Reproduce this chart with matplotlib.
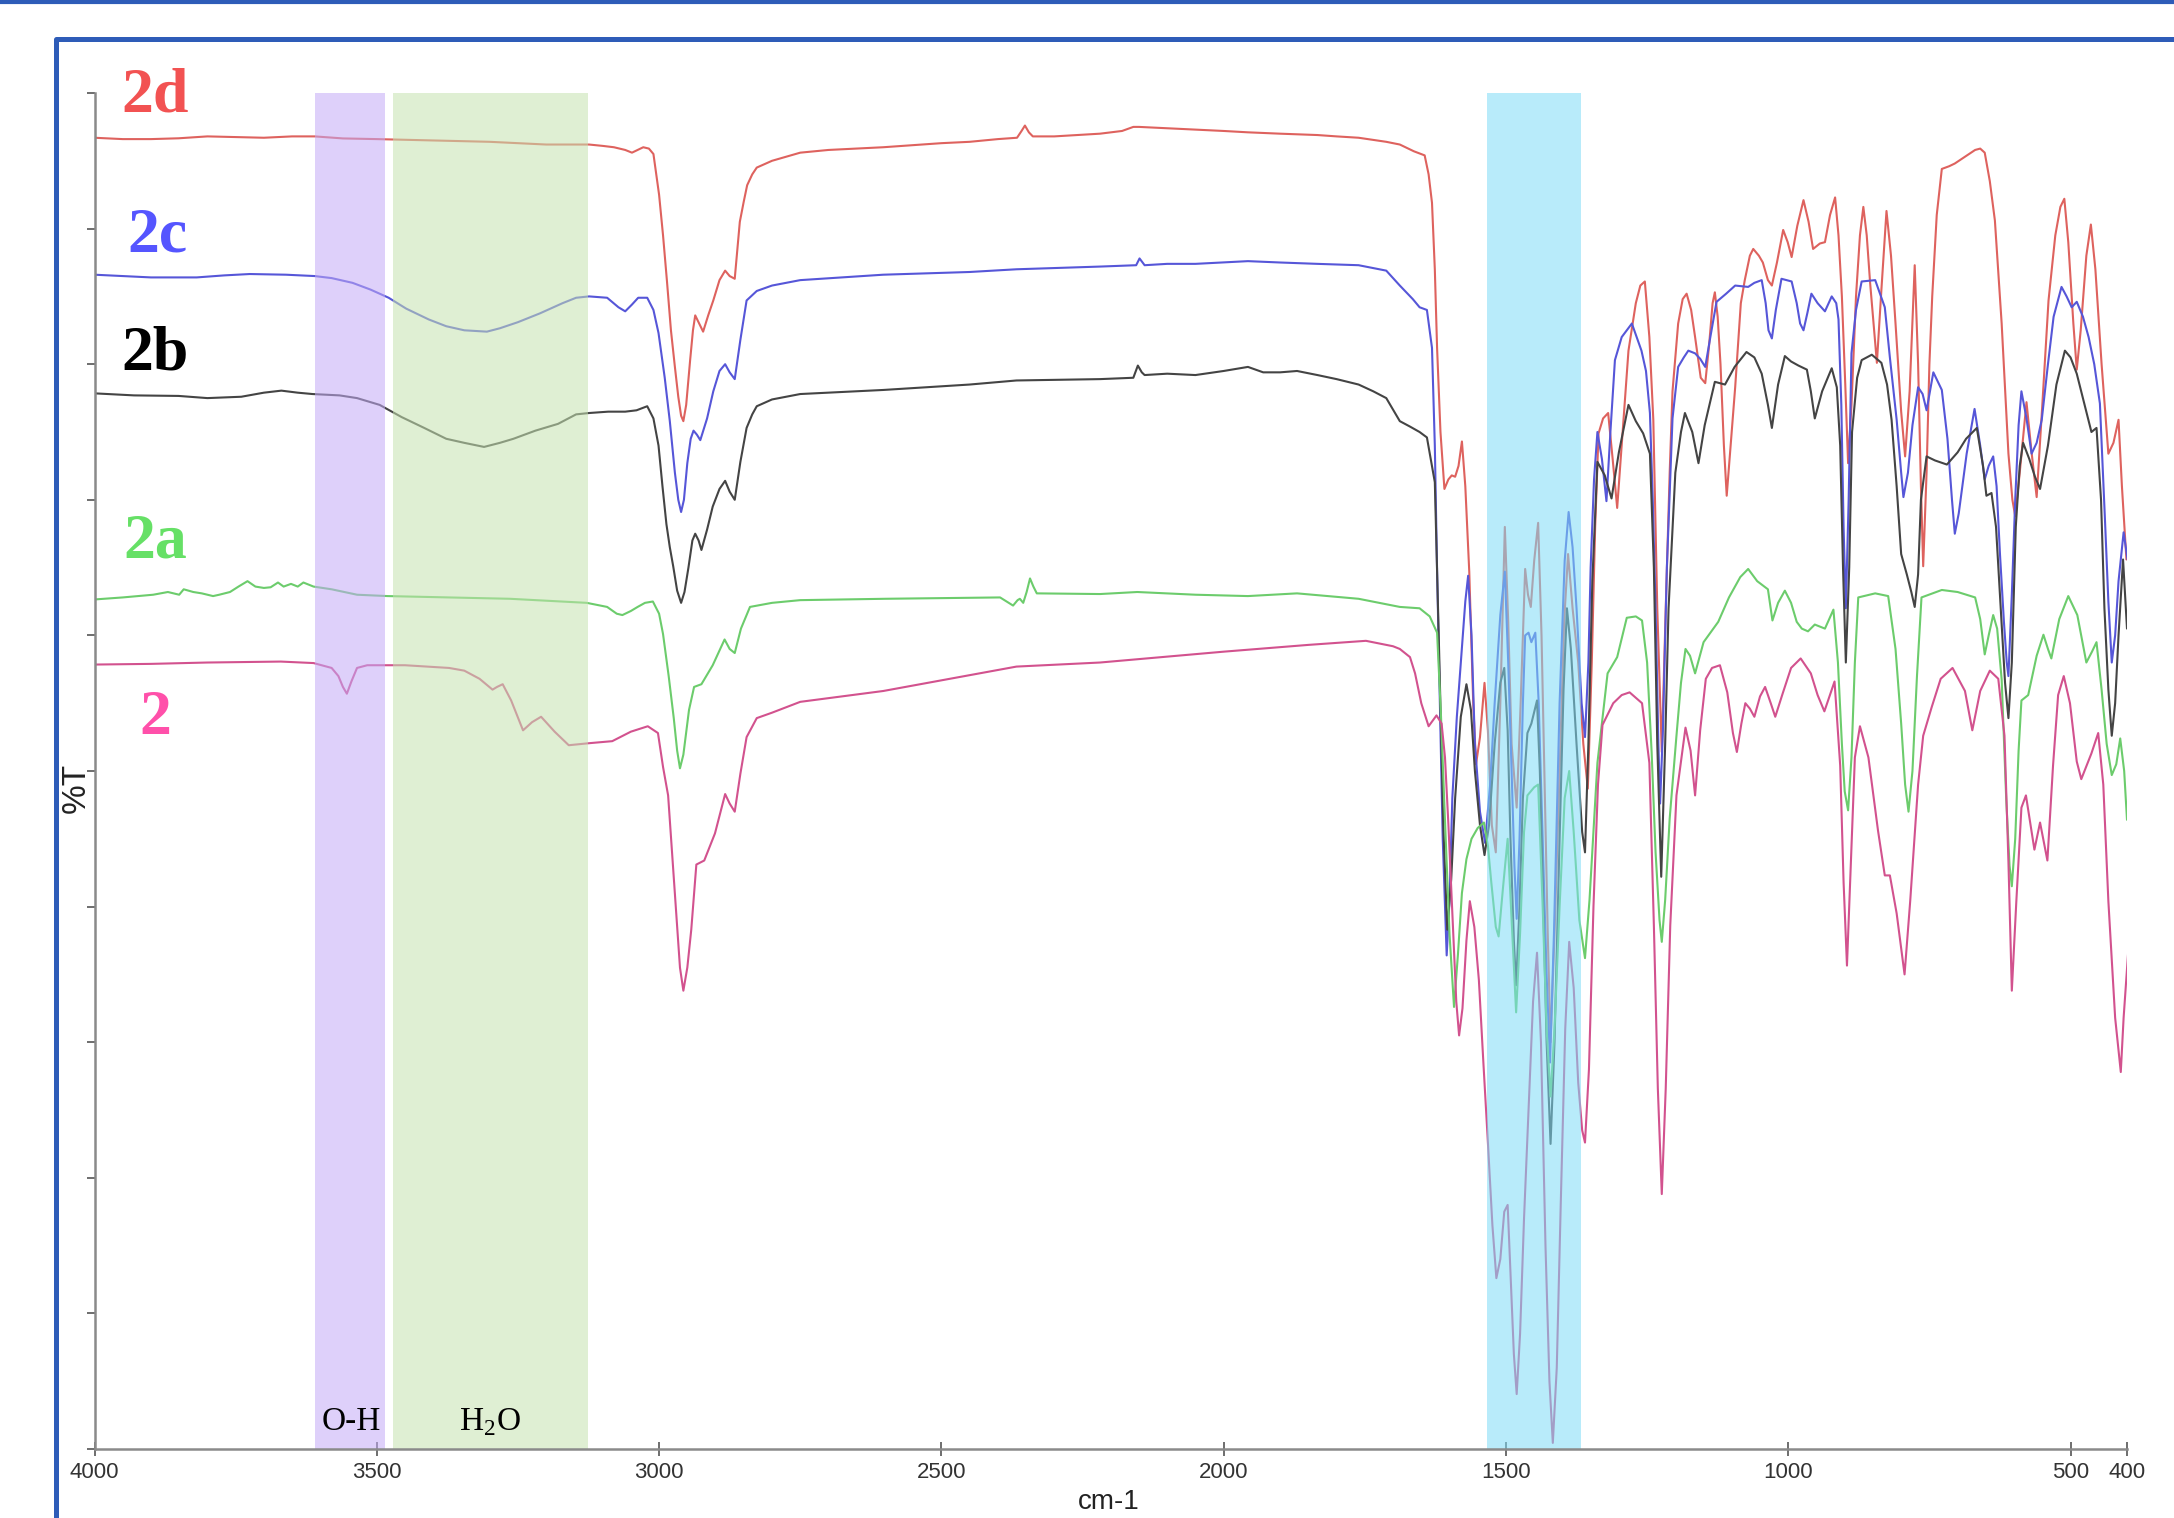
import matplotlib
matplotlib.use("Agg")
import matplotlib.pyplot as plt
from matplotlib.lines import Line2D

plt.rcParams['mathtext.fontset'] = 'custom'
plt.rcParams['mathtext.rm'] = 'Liberation Serif'

# ---------------- data (wavenumber cm-1, %T) ----------------
wn_2d = [4000, 3950, 3900, 3851, 3800, 3750, 3700, 3650, 3610, 3560, 3500, 3450, 3400, 3350,
         3300, 3250, 3200, 3150, 3124, 3100, 3080, 3060, 3048, 3038, 3028, 3018, 3010, 3000,
         2993, 2986, 2979, 2972, 2966, 2961, 2957, 2952, 2945, 2940, 2936, 2929, 2922, 2913,
         2904, 2893, 2883, 2875, 2866, 2857, 2850, 2844, 2835, 2827, 2800, 2750, 2700, 2603,
         2500, 2450, 2400, 2366, 2358, 2352, 2345, 2338, 2300, 2219, 2180, 2160, 2150, 2100,
         2050, 2000, 1957, 1900, 1834, 1800, 1761, 1712, 1688, 1663, 1650, 1644, 1637, 1631,
         1626, 1622, 1616, 1609, 1602, 1596, 1590, 1584, 1578, 1572, 1565, 1558, 1553, 1546,
         1538, 1532, 1525, 1518, 1510, 1502, 1496, 1490, 1481, 1474, 1466, 1461, 1456, 1450,
         1443, 1437, 1432, 1426, 1421, 1414, 1405, 1397, 1390, 1382, 1372, 1363, 1355, 1348,
         1342, 1336, 1328, 1319, 1311, 1303, 1295, 1283, 1270, 1262, 1254, 1246, 1239, 1232,
         1224, 1217, 1210, 1205, 1195, 1187, 1180, 1172, 1165, 1155, 1147, 1140, 1134, 1130,
         1125, 1120, 1114, 1109, 1102, 1094, 1084, 1077, 1068, 1062, 1052, 1045, 1036, 1029,
         1020, 1009, 1001, 994, 984, 973, 964, 956, 944, 935, 926, 917, 911, 905, 899, 894,
         888, 880, 873, 867, 861, 855, 843, 835, 826, 818, 810, 800, 793, 785, 776, 770, 765,
         761, 755, 750, 745, 737, 728, 715, 705, 687, 669, 660, 652, 643, 634, 622, 610, 603,
         598, 590, 578, 569, 560, 550, 539, 527, 518, 511, 504, 495, 489, 482, 472, 464, 456,
         445, 433, 424, 415, 409, 401]
T_2d = [96.7, 96.6, 96.6, 96.66, 96.8, 96.75, 96.7, 96.8, 96.8, 96.65, 96.6, 96.55, 96.5, 96.45,
        96.4, 96.3, 96.2, 96.2, 96.2, 96.1, 96.0, 95.8, 95.6, 95.8, 96.0, 95.9, 95.5, 92.5,
        89.5, 86.1, 82.5, 79.8, 77.6, 76.2, 75.8, 77.0, 80.3, 82.5, 83.6, 83.0, 82.4, 83.6,
        84.7, 86.2, 86.9, 86.5, 86.3, 90.5, 92.0, 93.2, 94.0, 94.5, 95.0, 95.6, 95.8, 96.0,
        96.3, 96.4, 96.6, 96.7, 97.2, 97.6, 97.1, 96.8, 96.8, 97.0, 97.2, 97.5, 97.5, 97.4,
        97.3, 97.2, 97.1, 97.0, 96.9, 96.8, 96.7, 96.4, 96.2, 95.7, 95.5, 95.4, 94.0, 91.9,
        87.0, 81.2, 75.0, 70.8, 71.5, 71.8, 71.7, 72.5, 74.3, 71.0, 64.7, 55.0, 50.5, 52.5,
        56.5, 53.0, 46.0, 44.0, 55.0, 68.0, 61.0, 52.0, 47.3, 55.0, 64.9, 63.0, 62.1, 65.5,
        68.3, 60.0, 50.0, 38.0, 30.0, 38.0, 50.0, 61.0, 66.0, 62.0, 58.0, 52.0, 48.7, 58.0,
        68.0, 74.9, 76.0, 76.4, 73.0, 69.4, 74.0, 81.0, 84.5, 85.8, 86.1, 82.0, 75.9, 62.0,
        51.4, 62.0, 72.0, 78.0, 83.0, 84.8, 85.2, 84.0, 82.0, 79.0, 78.6, 81.5, 84.5, 85.3,
        83.5, 80.0, 74.0, 70.3, 74.0, 78.3, 84.5, 86.2, 88.0, 88.5, 88.0, 87.5, 86.2, 85.8,
        87.5, 89.9, 89.0, 87.9, 90.2, 92.1, 90.5, 88.5, 88.9, 89.0, 91.0, 92.3, 89.5, 85.0,
        78.5, 72.7, 77.0, 85.0, 89.5, 91.6, 89.5, 86.0, 80.1, 85.5, 91.3, 88.0, 83.0, 76.5,
        73.2, 78.0, 87.3, 80.0, 71.0, 65.1, 72.0, 80.0, 85.0, 91.0, 94.4, 94.6, 94.8, 95.3,
        95.8, 95.9, 95.6, 93.5, 90.6, 83.0, 73.4, 70.0, 68.8, 72.0, 77.2, 73.5, 70.2, 77.0,
        84.7, 89.5, 91.6, 92.2, 89.0, 83.0, 79.6, 82.5, 88.0, 90.3, 87.0, 80.0, 73.4, 74.2,
        75.9, 71.0, 65.6]

wn_2c = [4000, 3900, 3819, 3770, 3725, 3661, 3610, 3580, 3543, 3511, 3479, 3448, 3408, 3377,
         3345, 3305, 3282, 3250, 3211, 3171, 3147, 3124, 3092, 3072, 3060, 3048, 3037, 3021,
         3010, 3001, 2990, 2981, 2972, 2966, 2961, 2956, 2950, 2944, 2939, 2933, 2927, 2915,
         2904, 2893, 2883, 2875, 2866, 2856, 2845, 2827, 2800, 2750, 2603, 2450, 2367, 2219,
         2155, 2149, 2140, 2100, 2050, 1957, 1900, 1834, 1761, 1712, 1688, 1665, 1653, 1640,
         1631, 1626, 1622, 1617, 1612, 1605, 1600, 1595, 1587, 1580, 1572, 1567, 1561, 1555,
         1546, 1537, 1528, 1520, 1510, 1502, 1496, 1490, 1485, 1481, 1476, 1470, 1466, 1460,
         1455, 1448, 1442, 1435, 1428, 1422, 1415, 1405, 1396, 1389, 1382, 1375, 1366, 1360,
         1354, 1350, 1344, 1338, 1330, 1322, 1315, 1307, 1295, 1277, 1260, 1252, 1245, 1240,
         1235, 1230, 1227, 1222, 1215, 1205, 1195, 1185, 1177, 1165, 1156, 1147, 1138, 1127,
         1110, 1094, 1071, 1060, 1047, 1040, 1035, 1029, 1022, 1012, 994, 985, 979, 973, 966,
         959, 948, 935, 923, 915, 911, 906, 902, 898, 893, 888, 880, 870, 846, 829, 820, 808,
         800, 796, 788, 780, 770, 762, 755, 743, 728, 718, 710, 705, 698, 690, 684, 670, 660,
         652, 645, 637, 631, 625, 618, 613, 610, 604, 598, 592, 587, 578, 569, 560, 551, 540,
         530, 516, 507, 498, 489, 478, 468, 458, 448, 439, 433, 427, 421, 415, 406, 399]
T_2c = [86.6, 86.4, 86.4, 86.55, 86.65, 86.6, 86.5, 86.35, 86.0, 85.5, 84.9, 84.1, 83.3, 82.8,
        82.5, 82.4, 82.65, 83.1, 83.75, 84.5, 84.9, 85.0, 84.9, 84.2, 83.9, 84.4, 84.9, 84.9,
        84.0, 82.3, 79.0, 75.8, 72.0, 70.0, 69.1, 70.0, 72.7, 74.5, 75.1, 74.8, 74.4, 76.0,
        78.0, 79.5, 80.0, 79.4, 78.9, 81.8, 84.7, 85.4, 85.8, 86.2, 86.6, 86.8, 87.0, 87.2,
        87.3, 87.8, 87.3, 87.4, 87.4, 87.6, 87.5, 87.4, 87.3, 86.9, 85.8, 84.8, 84.2, 84.0,
        81.2, 74.0, 64.8, 55.0, 45.0, 36.4, 40.5, 48.0, 54.0, 58.0, 62.5, 64.4, 60.0, 52.0,
        47.0, 44.7, 49.0, 55.0, 61.5, 64.7, 58.0, 50.0, 43.0, 39.1, 45.0, 55.0, 60.0, 60.2,
        59.5, 60.2, 55.0, 45.0, 35.0, 28.5, 38.0, 55.0, 65.5, 69.1, 66.5, 62.0, 55.0, 52.5,
        58.0, 65.0, 71.5, 75.0, 73.0, 69.9, 75.0, 80.3, 82.0, 83.0, 81.0, 79.5, 76.4, 70.0,
        62.0, 52.0, 47.6, 53.0, 65.0, 76.0, 79.8, 80.5, 81.0, 80.8, 80.4, 79.8, 82.0, 84.6,
        85.2, 85.8, 85.7, 86.0, 86.2, 84.5, 82.5, 81.9, 84.0, 86.3, 86.1, 84.5, 83.0, 82.5, 83.8,
        85.2, 84.5, 83.9, 85.0, 84.5, 83.3, 77.0, 68.0, 62.0, 70.0, 80.8, 84.0, 86.1, 86.2,
        84.2, 80.5, 75.9, 72.0, 70.2, 72.0, 75.5, 78.3, 77.8, 76.6, 79.4, 78.1, 74.5, 70.0,
        67.5, 69.0, 71.5, 73.4, 76.7, 74.0, 71.5, 72.5, 73.2, 71.0, 66.0, 61.0, 58.0, 57.0,
        63.0, 70.0, 75.5, 78.0, 76.0, 73.4, 74.2, 75.9, 80.0, 83.5, 85.7, 85.0, 84.2, 84.6,
        83.5, 82.0, 80.0, 77.1, 68.5, 62.5, 58.0, 60.0, 64.0, 67.6, 65.6]

wn_2b = [4000, 3930, 3851, 3800, 3740, 3700, 3669, 3640, 3614, 3566, 3535, 3495, 3456, 3416,
         3377, 3345, 3310, 3282, 3258, 3219, 3179, 3147, 3124, 3090, 3060, 3040, 3021, 3010,
         3001, 2994, 2987, 2981, 2975, 2968, 2961, 2955, 2948, 2941, 2936, 2930, 2925, 2915,
         2905, 2893, 2883, 2875, 2866, 2856, 2845, 2835, 2827, 2800, 2750, 2603, 2450, 2367,
         2219, 2160, 2152, 2145, 2140, 2100, 2050, 2000, 1957, 1930, 1900, 1870, 1834, 1800,
         1761, 1735, 1712, 1688, 1670, 1653, 1640, 1626, 1618, 1611, 1604, 1597, 1590, 1580,
         1570, 1562, 1555, 1546, 1538, 1530, 1520, 1510, 1503, 1497, 1492, 1486, 1482, 1476,
         1470, 1462, 1455, 1445, 1440, 1435, 1428, 1421, 1414, 1405, 1398, 1392, 1385, 1375,
         1365, 1360, 1354, 1347, 1338, 1325, 1313, 1300, 1283, 1270, 1257, 1245, 1238, 1232,
         1225, 1218, 1212, 1200, 1190, 1183, 1170, 1159, 1148, 1130, 1112, 1095, 1074, 1060,
         1047, 1036, 1029, 1018, 1006, 995, 982, 967, 960, 953, 940, 923, 914, 908, 903, 898,
         892, 887, 878, 870, 852, 835, 825, 817, 808, 800, 790, 782, 776, 770, 765, 755, 740,
         719, 700, 685, 666, 655, 649, 640, 632, 625, 616, 610, 604, 597, 590, 584, 573, 563,
         554, 540, 525, 510, 500, 489, 475, 463, 454, 446, 440, 433, 427, 421, 415, 407, 400]
T_2b = [77.85, 77.7, 77.66, 77.5, 77.6, 77.9, 78.05, 77.9, 77.8, 77.7, 77.5, 77.0, 76.1, 75.3,
        74.5, 74.2, 73.9, 74.2, 74.5, 75.1, 75.6, 76.3, 76.4, 76.5, 76.5, 76.6, 76.9, 76.0,
        74.0, 71.0, 68.2, 66.5, 65.1, 63.3, 62.4, 63.2, 65.0, 67.0, 67.5, 67.0, 66.3, 67.8,
        69.5, 70.8, 71.4, 70.6, 70.0, 72.8, 75.3, 76.3, 76.9, 77.4, 77.8, 78.1, 78.5, 78.8,
        78.9, 79.0, 79.9, 79.4, 79.2, 79.3, 79.2, 79.5, 79.8, 79.4, 79.4, 79.5, 79.2, 78.9,
        78.5, 78.0, 77.5, 75.8, 75.4, 75.0, 74.6, 71.3, 58.2, 46.0, 38.3, 42.0, 48.0, 54.0,
        56.4, 54.5, 50.0, 46.0, 43.8, 46.0, 52.0, 56.5, 57.6, 53.0, 45.0, 37.5, 34.2, 40.0,
        48.0, 52.8, 53.5, 55.2, 50.0, 42.0, 30.0, 22.5, 30.0, 45.0, 56.0, 62.0, 59.0, 52.0,
        45.5, 44.0, 52.0, 64.0, 72.8, 71.8, 70.1, 73.5, 77.0, 75.8, 74.9, 73.4, 65.0, 52.0,
        42.2, 52.0, 62.0, 72.0, 75.0, 76.4, 75.0, 72.7, 75.5, 78.7, 78.5, 79.8, 80.9, 80.5,
        79.3, 77.0, 75.3, 78.5, 80.6, 80.2, 79.9, 79.6, 78.0, 76.0, 78.0, 79.7, 78.3, 74.0,
        65.0, 58.0, 65.0, 75.0, 79.0, 80.3, 80.7, 80.1, 78.5, 75.9, 71.0, 66.0, 64.5, 63.2,
        62.1, 64.5, 70.0, 73.2, 72.9, 72.6, 73.5, 74.5, 75.3, 72.5, 70.3, 70.5, 68.0, 63.0,
        56.5, 53.9, 58.0, 68.0, 72.5, 74.2, 73.0, 71.7, 70.8, 74.0, 78.5, 81.0, 80.5, 79.3,
        77.0, 75.0, 75.3, 70.0, 62.0, 56.0, 52.6, 55.0, 60.0, 65.6, 60.5]

wn_2a = [4000, 3950, 3896, 3870, 3850, 3842, 3825, 3810, 3790, 3779, 3760, 3745, 3729, 3715,
         3700, 3688, 3675, 3665, 3652, 3640, 3630, 3612, 3580, 3535, 3481, 3264, 3128, 3092,
         3075, 3065, 3050, 3038, 3025, 3011, 3000, 2993, 2983, 2974, 2968, 2963, 2957, 2947,
         2938, 2925, 2905, 2884, 2875, 2866, 2855, 2839, 2800, 2750, 2600, 2396, 2373, 2365,
         2361, 2355, 2349, 2343, 2337, 2331, 2219, 2153, 2050, 1957, 1870, 1761, 1688, 1653,
         1635, 1622, 1615, 1609, 1600, 1592, 1585, 1578, 1570, 1561, 1550, 1539, 1532, 1526,
         1518, 1513, 1505, 1497, 1490, 1482, 1475, 1468, 1462, 1450, 1443, 1435, 1428, 1421,
         1414, 1405, 1396, 1388, 1380, 1370, 1360, 1352, 1338, 1320, 1303, 1286, 1270, 1259,
         1250, 1242, 1235, 1228, 1224, 1218, 1210, 1198, 1190, 1182, 1174, 1165, 1150, 1124,
         1105, 1085, 1071, 1055, 1036, 1028, 1018, 1006, 995, 985, 976, 965, 953, 935, 920,
         912, 905, 900, 894, 888, 882, 876, 846, 823, 810, 800, 793, 787, 780, 772, 764, 728,
         700, 669, 660, 652, 645, 637, 630, 622, 614, 608, 604, 598, 592, 587, 575, 560, 548,
         540, 534, 520, 504, 488, 472, 462, 454, 445, 436, 427, 419, 412, 405, 400]
T_2a = [62.65, 62.8, 63.0, 63.2, 63.0, 63.4, 63.2, 63.1, 62.9, 63.0, 63.2, 63.6, 64.0, 63.6,
        63.5, 63.55, 63.9, 63.6, 63.8, 63.6, 63.9, 63.6, 63.4, 63.0, 62.9, 62.7, 62.4, 62.1,
        61.6, 61.5, 61.8, 62.1, 62.4, 62.5, 61.6, 60.1, 57.0, 53.9, 51.5, 50.2, 51.2, 54.5,
        56.2, 56.4, 57.8, 59.7, 59.0, 58.7, 60.5, 62.1, 62.4, 62.6, 62.7, 62.8, 62.2, 62.6,
        62.7, 62.4, 63.2, 64.2, 63.6, 63.1, 63.05, 63.2, 63.0, 62.9, 63.1, 62.7, 62.1, 62.0,
        61.4, 60.2, 54.0, 47.4, 38.0, 32.6, 36.5, 41.0, 43.5, 45.0, 45.8, 46.2, 44.5, 41.8,
        38.5, 37.8, 41.5, 45.0, 39.0, 32.2, 38.0, 45.5, 48.2, 48.8, 49.0, 40.0, 31.0, 26.0,
        31.0, 40.0, 48.0, 50.0, 45.5, 39.0, 36.2, 40.5, 50.6, 57.2, 58.4, 61.3, 61.4, 61.1,
        58.0, 51.4, 44.0, 39.0, 37.4, 40.5, 46.5, 52.6, 56.5, 59.0, 58.5, 57.2, 59.5, 61.0,
        62.8, 64.3, 64.9, 64.0, 63.4, 61.1, 62.4, 63.3, 62.4, 61.0, 60.5, 60.3, 60.8, 60.5, 61.9,
        58.0, 52.0, 48.5, 47.1, 51.0, 58.0, 62.8, 63.1, 62.9, 59.0, 53.5, 49.0, 47.0, 50.0,
        57.0, 62.8, 63.35, 63.2, 62.8, 61.2, 58.6, 60.0, 61.5, 60.5, 56.75, 48.0, 43.0, 41.5,
        45.0, 51.5, 55.2, 55.6, 58.5, 60.05, 59.0, 58.3, 61.2, 62.9, 61.5, 58.0, 58.8, 59.5,
        56.0, 52.0, 49.7, 50.5, 52.4, 50.0, 46.4]

wn_2 = [4000, 3900, 3800, 3670, 3612, 3580, 3568, 3560, 3553, 3545, 3535, 3517, 3450, 3372,
        3345, 3318, 3295, 3287, 3277, 3262, 3241, 3225, 3209, 3185, 3160, 3124, 3083, 3050,
        3020, 3002, 2993, 2984, 2977, 2970, 2963, 2957, 2950, 2943, 2934, 2920, 2901, 2883,
        2875, 2866, 2856, 2845, 2827, 2800, 2750, 2603, 2367, 2219, 2000, 1850, 1748, 1700,
        1688, 1670, 1661, 1650, 1637, 1630, 1623, 1614, 1608, 1602, 1595, 1588, 1583, 1577,
        1570, 1564, 1556, 1548, 1540, 1532, 1524, 1517, 1510, 1503, 1497, 1492, 1486, 1481,
        1475, 1468, 1460, 1452, 1445, 1438, 1430, 1423, 1417, 1410, 1403, 1395, 1388, 1380,
        1372, 1365, 1360, 1353, 1345, 1337, 1329, 1310, 1295, 1281, 1270, 1259, 1246, 1238,
        1231, 1224, 1217, 1209, 1198, 1182, 1173, 1165, 1156, 1146, 1135, 1121, 1108, 1098,
        1091, 1083, 1076, 1068, 1060, 1050, 1041, 1031, 1023, 1010, 995, 978, 960, 948, 936,
        927, 918, 908, 902, 896, 889, 882, 873, 858, 841, 829, 820, 808, 794, 784, 770, 761,
        746, 730, 709, 687, 674, 660, 643, 628, 617, 610, 604, 596, 587, 579, 564, 554, 541,
        531, 522, 512, 501, 489, 481, 463, 451, 442, 433, 421, 411, 406, 398]
T_2 = [57.85, 57.9, 58.0, 58.07, 57.96, 57.6, 57.0, 56.2, 55.7, 56.6, 57.6, 57.8, 57.8, 57.6,
       57.4, 56.8, 56.0, 56.2, 56.4, 55.2, 53.0, 53.6, 54.0, 52.9, 51.9, 52.05, 52.2, 52.9,
       53.3, 52.8, 50.3, 48.2, 44.0, 39.8, 35.5, 33.8, 35.5, 38.3, 43.1, 43.4, 45.4, 48.3,
       47.6, 47.0, 49.8, 52.5, 53.9, 54.3, 55.1, 55.9, 57.7, 58.0, 58.8, 59.3, 59.6, 59.2,
       59.0, 58.4, 57.2, 55.0, 53.3, 53.7, 54.1, 53.5, 51.0, 46.1, 39.5, 33.0, 30.5, 32.5,
       37.5, 40.4, 38.5, 34.6, 28.5, 22.6, 16.5, 12.6, 14.0, 17.5, 18.0, 13.0, 7.0, 4.05,
       8.5, 17.0, 25.0, 33.0, 36.6, 30.0, 15.0, 5.0, 0.45, 6.0, 18.0, 31.0, 37.4, 34.0,
       27.0, 23.5, 22.6, 28.0, 40.0, 49.0, 53.4, 55.0, 55.6, 55.8, 55.4, 55.0, 50.6, 38.6,
       26.6, 18.8, 26.6, 38.6, 48.2, 53.2, 51.5, 48.2, 53.0, 56.8, 57.6, 57.8, 55.8, 52.8,
       51.4, 53.5, 55.0, 54.6, 54.0, 55.5, 56.2, 55.0, 54.0, 55.7, 57.6, 58.3, 57.2, 55.6, 54.4,
       55.5, 56.6, 50.4, 41.8, 35.65, 43.3, 51.0, 53.3, 51.0, 45.6, 42.3, 42.3, 39.5, 35.0,
       40.4, 49.0, 52.6, 54.7, 56.8, 57.6, 55.9, 53.0, 55.9, 57.4, 56.8, 52.6, 43.3, 33.8,
       40.4, 47.3, 48.2, 44.2, 46.2, 43.4, 50.4, 55.6, 57.0, 55.0, 50.7, 49.4, 51.3, 52.8,
       49.0, 40.4, 31.8, 27.8, 31.8, 36.6]

series_names = ['2d', '2c', '2b', '2a', '2']
line_colors = ['#de625e', '#5656d8', '#444444', '#6ccc6c', '#d2528e']
label_colors = ['#f25252', '#5555ff', '#000000', '#66e066', '#ff50aa']

band_ranges = [(3610, 3485), (3472, 3126), (1534, 1367)]
band_labels = ['O-H', r'H$_\mathrm{2}$O', '']

x_ticks = [4000, 3500, 3000, 2500, 2000, 1500, 1000, 500, 400]

# ---------------- figure ----------------
W, H = 2174, 1518
fig = plt.figure(figsize=(W / 100, H / 100), dpi=100)
fig.patch.set_facecolor('white')

ax = fig.add_axes([94.5 / W, 1 - 1449 / H, (2127 - 94.5) / W, (1449 - 93) / H])
ax.set_facecolor('white')

all_wn = [wn_2d, wn_2c, wn_2b, wn_2a, wn_2]
all_T = [T_2d, T_2c, T_2b, T_2a, T_2]
for w, t, c in zip(all_wn, all_T, line_colors):
    ax.plot(w, t, color=c, lw=1.5, zorder=2, solid_joinstyle='round',
            solid_capstyle='round')

band_colors = [(195 / 255, 170 / 255, 246 / 255), (197 / 255, 226 / 255, 175 / 255),
               (126 / 255, 220 / 255, 246 / 255)]
for (a, b), col in zip(band_ranges, band_colors):
    ax.axvspan(b, a, color=col, alpha=0.55, lw=0, zorder=3)

ax.set_xlim(4000, 400)
ax.set_ylim(0, 100)
ax.set_xticks(x_ticks)
ax.set_xticklabels([str(v) for v in x_ticks], fontsize=16, family='Liberation Sans',
                   color='#333333')
ax.set_yticks(range(0, 101, 10))
ax.set_yticklabels([])
ax.tick_params(axis='x', direction='inout', length=10, width=1.2, color='#555555', pad=4)
ax.tick_params(axis='y', direction='out', length=6, width=1.2, color='#555555')
for s in ['top', 'right']:
    ax.spines[s].set_visible(False)
for s in ['left', 'bottom']:
    ax.spines[s].set_color('#8a8a8a')
    ax.spines[s].set_linewidth(1.8)
    ax.spines[s].set_zorder(5)

# band annotations
ax.text(3546, 2.0, band_labels[0], ha='center', va='center', fontsize=24,
        family='Liberation Serif', zorder=6)
ax.text(3300, 2.0, band_labels[1], ha='center', va='center', fontsize=24,
        family='Liberation Serif', zorder=6)

# series labels
label_pos = [(155, 97), (157, 237), (155, 355), (155, 542), (155, 719)]
for name, col, (px, py) in zip(series_names, label_colors, label_pos):
    fig.text(px / W, 1 - py / H, name, color=col, fontsize=46, fontweight='bold',
             family='Liberation Serif', ha='center', va='center')

# axis titles
fig.text(76 / W, 1 - 788 / H, '%T', rotation=90, fontsize=24, family='Liberation Sans',
         ha='center', va='center', color='#222222')
fig.text(1109 / W, 3 / H, 'cm-1', fontsize=20, family='Liberation Sans',
         ha='center', va='bottom', color='#222222')

# slide frame
blue = '#2e5cb8'
fig.add_artist(Line2D([0, 1], [1 - 2 / H, 1 - 2 / H], transform=fig.transFigure,
                      color=blue, lw=3.0))
fig.add_artist(Line2D([56 / W, 56 / W, 1], [0, 1 - 39 / H, 1 - 39 / H],
                      transform=fig.transFigure, color=blue, lw=3.6))

fig.savefig('out.png', dpi=100, facecolor='white')
